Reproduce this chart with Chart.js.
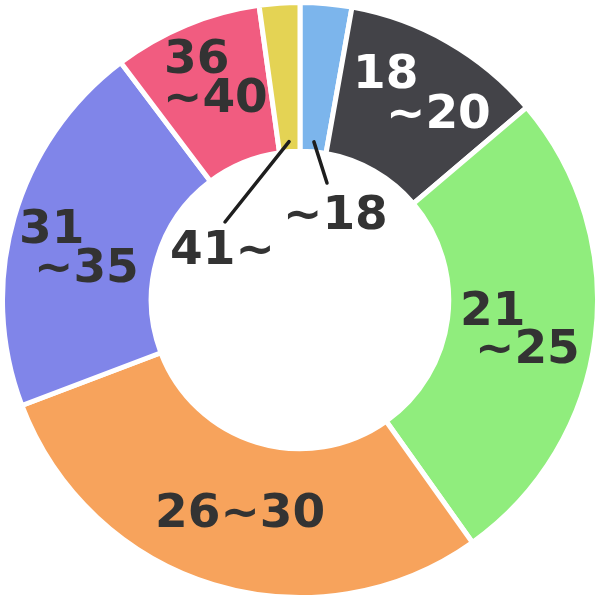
<!DOCTYPE html>
<html>
<head>
<meta charset="utf-8">
<title>Age groups</title>
<script src="https://cdn.jsdelivr.net/npm/chart.js@4/dist/chart.umd.min.js"></script>
<style>
  html, body { margin: 0; padding: 0; background: #fff; }
  #wrap { width: 600px; height: 600px; }
</style>
</head>
<body>
<div id="wrap"><canvas id="ageChart" width="600" height="600"></canvas></div>
<script>
// Age groups and their share (%), clockwise from 12 o'clock
const categories = ['~18', '18~20', '21~25', '26~30', '31~35', '36~40', '41~'];
const shares = [2.8, 11.0, 26.4, 29.1, 20.5, 8.1, 2.2];
const colors = ['#7cb5ec', '#434348', '#90ed7d', '#f7a35c', '#8085e9', '#f15c80', '#e4d354'];

// How each label is written: text lines and colour
const labelLines = [['~18'], ['18', '~20'], ['21', '~25'], ['26~30'], ['31', '~35'], ['36', '~40'], ['41~']];
const labelColors = ['#333', '#fff', '#333', '#333', '#333', '#333', '#333'];

// Where labels sit, as offsets from the chart centre (ink left edge, baseline)
const labelOffsets = [
  [[-13, -71]],
  [[58, -212], [90, -172]],
  [[163, 25], [179, 63]],
  [[-142, 227]],
  [[-278, -57], [-262, -18]],
  [[-133, -227], [-133, -188]],
  [[-128, -36]]
];
// Leader lines for the thin slices: end point offset from centre (null = none)
const leaderEnds = [[27, -117], null, null, null, null, null, [-75, -78]];

const labelPlugin = {
  id: 'sliceLabels',
  afterDatasetsDraw(chart) {
    const ctx = chart.ctx;
    const arcs = chart.getDatasetMeta(0).data;
    ctx.save();
    ctx.font = 'bold 47px "DejaVu Sans", Verdana, sans-serif';
    ctx.textBaseline = 'alphabetic';
    ctx.textAlign = 'left';

    arcs.forEach((arc, i) => {
      const p = arc.getProps(['x', 'y', 'startAngle', 'endAngle', 'innerRadius', 'outerRadius'], true);

      // leader line from inside the slice
      if (leaderEnds[i]) {
        const mid = (p.startAngle + p.endAngle) / 2;
        const r = p.innerRadius + 10;
        ctx.beginPath();
        ctx.moveTo(p.x + Math.cos(mid) * r, p.y + Math.sin(mid) * r);
        ctx.lineTo(p.x + leaderEnds[i][0], p.y + leaderEnds[i][1]);
        ctx.strokeStyle = '#1e1e1e';
        ctx.lineWidth = 3.5;
        ctx.lineCap = 'round';
        ctx.stroke();
      }

      ctx.fillStyle = labelColors[i];
      labelLines[i].forEach((txt, j) => {
        const m = ctx.measureText(txt);
        const [dx, dy] = labelOffsets[i][j];
        ctx.fillText(txt, p.x + dx + m.actualBoundingBoxLeft, p.y + dy);
      });
    });
    ctx.restore();
  }
};

new Chart(document.getElementById('ageChart'), {
  type: 'doughnut',
  data: {
    labels: categories,
    datasets: [{
      data: shares,
      backgroundColor: colors,
      borderColor: '#fff',
      borderWidth: 5
    }]
  },
  options: {
    responsive: false,
    animation: false,
    cutout: '50%',
    layout: { padding: 0 },
    plugins: {
      legend: { display: false },
      tooltip: { enabled: false }
    }
  },
  plugins: [labelPlugin]
});
</script>
</body>
</html>
